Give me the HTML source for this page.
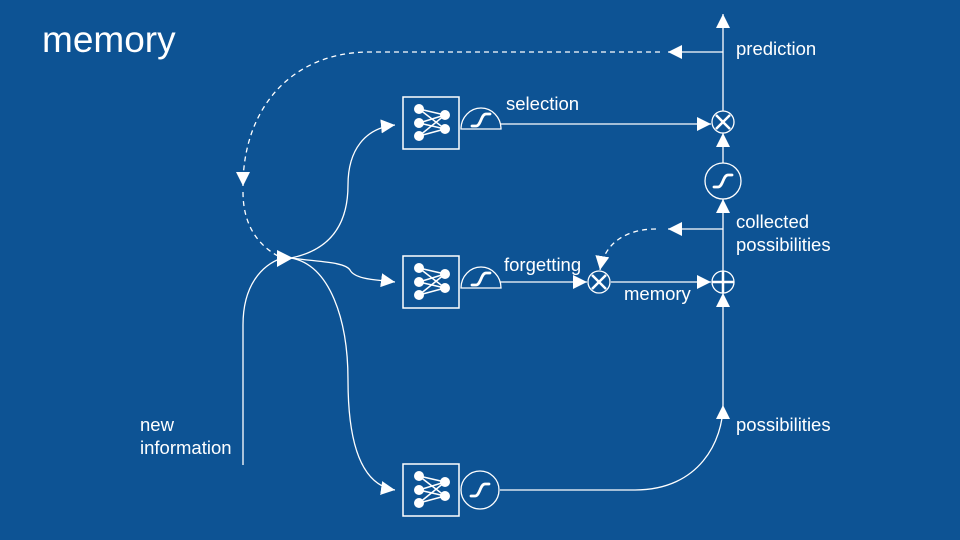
<!DOCTYPE html>
<html><head><meta charset="utf-8"><style>
html,body{margin:0;padding:0;background:#0d5394;}
svg{display:block}
text{font-family:"Liberation Sans",Arial,sans-serif;fill:#fff}
</style></head><body>
<svg width="960" height="540" viewBox="0 0 960 540">
<defs>
<marker id="a" viewBox="0 0 10 10" refX="10" refY="5" markerWidth="14" markerHeight="14" markerUnits="userSpaceOnUse" orient="auto"><path d="M0,0 L10,5 L0,10 z" fill="#fff"/></marker>
<g id="net">
<rect x="0" y="0" width="56" height="52" fill="none" stroke="#fff" stroke-width="1.5"/>
<g stroke="#fff" stroke-width="1.5">
<line x1="16" y1="12" x2="42" y2="18"/><line x1="16" y1="12" x2="42" y2="32"/>
<line x1="16" y1="26" x2="42" y2="18"/><line x1="16" y1="26" x2="42" y2="32"/>
<line x1="16" y1="39" x2="42" y2="18"/><line x1="16" y1="39" x2="42" y2="32"/>
</g>
<g fill="#fff"><circle cx="16" cy="12" r="5"/><circle cx="16" cy="26" r="5"/><circle cx="16" cy="39" r="5"/><circle cx="42" cy="18" r="5"/><circle cx="42" cy="32" r="5"/></g>
</g>
<path id="sig" d="M-9,6 L-5,6 C0,6 0,-6 5,-6 L9,-6" fill="none" stroke="#fff" stroke-width="2.8" stroke-linecap="round"/>
</defs>
<text x="42" y="52" font-size="37">memory</text>

<g fill="none" stroke="#fff" stroke-width="1.3">
<line x1="723" y1="271" x2="723" y2="199" marker-end="url(#a)"/>
<line x1="723" y1="163" x2="723" y2="133" marker-end="url(#a)"/>
<line x1="723" y1="111" x2="723" y2="14" marker-end="url(#a)"/>
<line x1="723" y1="52" x2="668" y2="52" marker-end="url(#a)"/>
<line x1="723" y1="229" x2="668" y2="229" marker-end="url(#a)"/>
<path d="M500,490 L635,490 C700,490 723,440 723,405" marker-end="url(#a)"/>
<line x1="723" y1="405" x2="723" y2="293" marker-end="url(#a)"/>
<path d="M660,52 L370,52 C290,52 243,110 243,186" stroke-dasharray="5,4" marker-end="url(#a)"/>
<path d="M243,192 C243,225 258,245 278,256" stroke-dasharray="5,4"/>
<path d="M656,229 C630,229 605,240 600,270" stroke-dasharray="5,4" marker-end="url(#a)"/>
<path d="M243,465 L243,325 C243,285 262,265 282,258" />
<path d="M291,258 C330,250 348,225 348,185 C348,150 365,128 395,125" marker-end="url(#a)"/>
<path d="M291,258 C320,262 345,262 350,270 C355,280 380,280 395,282" marker-end="url(#a)"/>
<path d="M291,258 C330,265 348,320 348,380 C348,440 360,485 395,490" marker-end="url(#a)"/>
<line x1="500" y1="124" x2="711" y2="124" marker-end="url(#a)"/>
<line x1="500" y1="282" x2="587" y2="282" marker-end="url(#a)"/>
<line x1="611" y1="282" x2="711" y2="282" marker-end="url(#a)"/>
</g>
<path d="M277,250 L293,258 L277,267 z" fill="#fff"/>

<use href="#net" x="403" y="97"/>
<use href="#net" x="403" y="256"/>
<use href="#net" x="403" y="464"/>
<g fill="#0d5394" stroke="#fff" stroke-width="1.3">
<path d="M461,129 A20,21 0 0 1 501,129 Z"/>
<path d="M461,288 A20,21 0 0 1 501,288 Z"/>
<circle cx="480" cy="490" r="19"/>
<circle cx="723" cy="181" r="18"/>
<circle cx="723" cy="122" r="11"/>
<circle cx="723" cy="282" r="11"/>
<circle cx="599" cy="282" r="11"/>
</g>
<use href="#sig" x="481" y="120"/>
<use href="#sig" x="481" y="279"/>
<use href="#sig" x="480" y="490"/>
<use href="#sig" x="723" y="181"/>
<g stroke="#fff" stroke-width="2.5">
<line x1="716" y1="115" x2="730" y2="129"/><line x1="730" y1="115" x2="716" y2="129"/>
<line x1="592" y1="275" x2="606" y2="289"/><line x1="606" y1="275" x2="592" y2="289"/>
<line x1="712" y1="282" x2="734" y2="282"/><line x1="723" y1="271" x2="723" y2="293"/>
</g>

<g font-size="18.5">
<text x="736" y="55">prediction</text>
<text x="506" y="110">selection</text>
<text x="736" y="228">collected</text>
<text x="736" y="251">possibilities</text>
<text x="504" y="271">forgetting</text>
<text x="624" y="300">memory</text>
<text x="736" y="431">possibilities</text>
<text x="140" y="431">new</text>
<text x="140" y="454">information</text>
</g>
</svg>
</body></html>
